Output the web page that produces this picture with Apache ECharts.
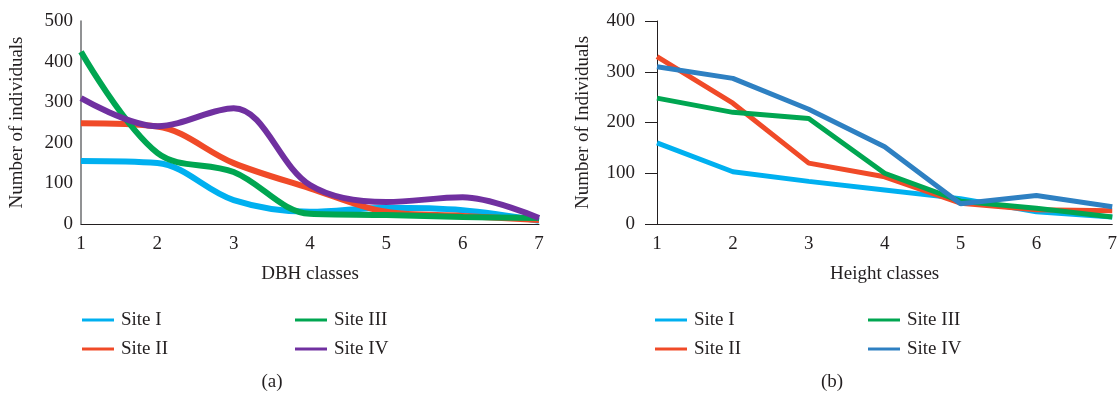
<!DOCTYPE html>
<html>
<head>
<meta charset="utf-8">
<script src="https://cdn.jsdelivr.net/npm/echarts@6/dist/echarts.min.js"></script>
<style>
  html, body { margin: 0; padding: 0; background: #fff; }
  #chart { width: 1120px; height: 397px; }
</style>
</head>
<body>
<div id="chart"></div>
<script>
// classes 1..7 on both panels
var classes = [1, 2, 3, 4, 5, 6, 7]
var siteNames = ['Site I', 'Site II', 'Site III', 'Site IV']

// (a) DBH classes
var dbhSite1 = [155, 150, 59, 30, 40, 34, 8]
var dbhSite2 = [248, 240, 150, 88, 30, 20, 10]
var dbhSite3 = [424, 175, 128, 25, 22, 17, 15]
var dbhSite4 = [310, 241, 285, 96, 54, 66, 15]

// (b) Height classes
var htSite1 = [160, 103, 84, 67, 50, 24, 14]
var htSite2 = [330, 238, 120, 93, 41, 28, 26]
var htSite3 = [248, 220, 208, 100, 45, 31, 14]
var htSite4 = [310, 287, 226, 152, 40, 56, 34]

var colorsA = ['#00b0f0', '#f04a28', '#00a651', '#7030a0']
var colorsB = ['#00b0f0', '#f04a28', '#00a651', '#2e80c2']

var font = 'Liberation Serif'
var txt = '#231f20'

function pairs (vals) {
  return vals.map(function (v, i) { return [classes[i], v] })
}

function makeSeries (name, vals, color, idx, smooth, width) {
  return {
    name: name,
    type: 'line',
    xAxisIndex: idx,
    yAxisIndex: idx,
    smooth: smooth,
    symbol: 'none',
    lineStyle: { color: color, width: width },
    itemStyle: { color: color },
    data: pairs(vals)
  }
}

function makeLegend (left, names, colors) {
  return {
    left: left,
    top: 305,
    orient: 'vertical',
    icon: 'rect',
    itemWidth: 32,
    itemHeight: 3,
    itemGap: 9,
    selectedMode: false,
    textStyle: { fontFamily: font, fontSize: 19, color: txt, lineHeight: 20, padding: [0, 0, 0, 2] },
    data: names.map(function (n, i) {
      return { name: n, itemStyle: { color: colors[i] } }
    })
  }
}

var dbh = [dbhSite1, dbhSite2, dbhSite3, dbhSite4]
var ht = [htSite1, htSite2, htSite3, htSite4]
var series = []
siteNames.forEach(function (n, i) {
  series.push(makeSeries(n, dbh[i], colorsA[i], 0, 0.35, 6))
})
siteNames.forEach(function (n, i) {
  series.push(makeSeries(n, ht[i], colorsB[i], 1, false, 5))
})

var labelStyle = { fontFamily: font, fontSize: 19, color: txt }

var myChart = echarts.init(document.getElementById('chart'))
var option = {
  backgroundColor: '#fff',
  animation: false,
  title: [
    { text: '(a)', left: 267, top: 368, textAlign: 'center', textStyle: { fontFamily: font, fontSize: 19, fontWeight: 'normal', color: txt } },
    { text: '(b)', left: 827, top: 368, textAlign: 'center', textStyle: { fontFamily: font, fontSize: 19, fontWeight: 'normal', color: txt } }
  ],
  grid: [
    { left: 81, top: 21, width: 458, height: 203 },
    { left: 657, top: 21, width: 456, height: 203 }
  ],
  xAxis: [{
    gridIndex: 0,
    type: 'value',
    min: 1,
    max: 7,
    interval: 1,
    name: 'DBH classes',
    nameLocation: 'middle',
    nameGap: 41,
    nameTextStyle: labelStyle,
    axisLine: { lineStyle: { color: '#231f20', width: 1 } },
    axisTick: { show: false },
    splitLine: { show: false },
    axisLabel: Object.assign({ margin: 11 }, labelStyle)
  }, {
    gridIndex: 1,
    type: 'value',
    min: 1,
    max: 7,
    interval: 1,
    name: 'Height classes',
    nameLocation: 'middle',
    nameGap: 41,
    nameTextStyle: labelStyle,
    axisLine: { lineStyle: { color: '#231f20', width: 1 } },
    axisTick: { show: false },
    splitLine: { show: false },
    axisLabel: Object.assign({ margin: 11 }, labelStyle)
  }],
  yAxis: [{
    gridIndex: 0,
    type: 'value',
    min: 0,
    max: 500,
    interval: 100,
    name: 'Number of individuals',
    nameLocation: 'middle',
    nameGap: 54,
    nameTextStyle: labelStyle,
    axisLine: { show: true, lineStyle: { color: '#6d6e71', width: 1.5 } },
    axisTick: { show: false },
    splitLine: { show: false },
    axisLabel: Object.assign({ margin: 8 }, labelStyle)
  }, {
    gridIndex: 1,
    type: 'value',
    min: 0,
    max: 400,
    interval: 100,
    name: 'Number of Individuals',
    nameLocation: 'middle',
    nameGap: 64,
    nameTextStyle: labelStyle,
    axisLine: { show: true, lineStyle: { color: '#231f20', width: 1 } },
    axisTick: { show: true, length: 12, lineStyle: { color: '#231f20' } },
    splitLine: { show: false },
    axisLabel: Object.assign({ margin: 22 }, labelStyle)
  }],
  legend: [
    makeLegend(77, siteNames.slice(0, 2), colorsA.slice(0, 2)),
    makeLegend(290, siteNames.slice(2, 4), colorsA.slice(2, 4)),
    makeLegend(650, siteNames.slice(0, 2), colorsB.slice(0, 2)),
    makeLegend(863, siteNames.slice(2, 4), colorsB.slice(2, 4))
  ],
  series: series
}
myChart.setOption(option, true)
</script>
</body>
</html>
